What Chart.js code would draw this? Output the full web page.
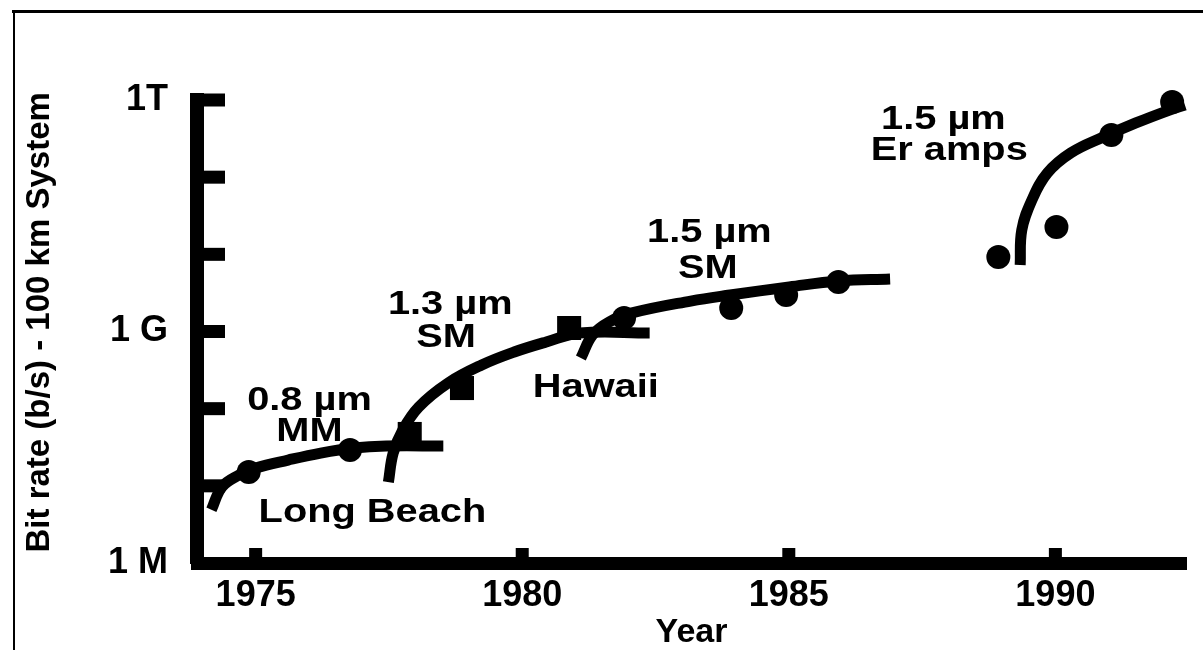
<!DOCTYPE html>
<html>
<head>
<meta charset="utf-8">
<title>Bit rate - 100 km System</title>
<script src="https://cdn.jsdelivr.net/npm/chart.js@4.4.1/dist/chart.umd.min.js"></script>
<style>
  body { margin: 0; background: #fff; }
  canvas { display: block; }
</style>
</head>
<body>
<canvas id="canvas" width="1203" height="653"></canvas>
<script>
// curves, rate in b/s
const mmCurveYears = [1974.17, 1974.37, 1974.69, 1975.0, 1975.61, 1976.22, 1976.84, 1977.45, 1978.52];
const mmCurveRates = [4.9e6, 9.7e6, 1.38e7, 1.7e7, 2.16e7, 2.66e7, 3.09e7, 3.28e7, 3.28e7];

const sm13CurveYears = [1977.49, 1977.58, 1977.76, 1978.06, 1978.61, 1979.24, 1979.85, 1980.45, 1981.08, 1982.39];
const sm13CurveRates = [1.12e7, 2.66e7, 5.3e7, 1.05e8, 2.15e8, 3.68e8, 5.42e8, 7.31e8, 9.55e8, 9.55e8];

const sm15CurveYears = [1981.1, 1981.32, 1981.63, 1982.06, 1983.16, 1983.9, 1985.01, 1985.93, 1986.9];
const sm15CurveRates = [4.53e8, 9.02e8, 1.33e9, 1.74e9, 2.48e9, 2.97e9, 3.78e9, 4.51e9, 4.79e9];

const erCurveYears = [1989.34, 1989.37, 1989.56, 1989.85, 1990.29, 1990.9, 1991.51, 1992.14, 1992.43];
const erCurveRates = [7.28e9, 2.07e10, 5.06e10, 1.13e11, 2.06e11, 3.31e11, 5.04e11, 7.41e11, 8.61e11];

// measured systems
const mmPointYears = [1974.87, 1976.77];
const mmPointRates = [1.51e7, 2.91e7];
const sm13PointYears = [1977.89, 1978.87, 1980.88];
const sm13PointRates = [4.7e7, 1.85e8, 1.11e9];
const sm15PointYears = [1981.91, 1983.92, 1984.95, 1985.93];
const sm15PointRates = [1.5e9, 2.01e9, 2.97e9, 4.38e9];
const erPointYears = [1988.93, 1990.02, 1991.05, 1992.19];
const erPointRates = [9.23e9, 2.26e10, 3.52e11, 9.42e11];

// axes
const yearTicks = [1975, 1980, 1985, 1990];
const rateTicks = [1e6, 1e7, 1e8, 1e9, 1e10, 1e11, 1e12];
const rateTickLabels = ["1 M", "", "", "1 G", "", "", "1T"];

// text notes on the plot
const noteTexts = ["0.8 \u00b5m", "MM", "Long Beach", "1.3 \u00b5m", "SM", "Hawaii", "1.5 \u00b5m", "SM", "1.5 \u00b5m", "Er amps"];
const noteYears = [1976.01, 1976.01, 1977.19, 1978.65, 1978.57, 1981.38, 1983.51, 1983.48, 1987.9, 1988.01];
const noteRates = [1.29e8, 4.99e7, 4.45e6, 2.2e9, 8.24e8, 1.85e8, 1.89e10, 6.46e9, 5.51e11, 2.18e11];

const FONT = "'Liberation Sans', Arial, Helvetica, sans-serif";

function toPoints(xs, ys) {
  return xs.map((x, i) => ({ x: x, y: ys[i] }));
}

function curve(xs, ys) {
  return {
    data: toPoints(xs, ys),
    borderColor: "#000",
    borderWidth: 11,
    pointRadius: 0,
    fill: false,
    tension: 0.4,
    clip: false,
  };
}

function markers(xs, ys, style, radius) {
  return {
    data: toPoints(xs, ys),
    showLine: false,
    pointStyle: style,
    pointRadius: radius,
    backgroundColor: "#000",
    borderColor: "#000",
    borderWidth: 0,
    clip: false,
  };
}

// tick marks pointing into the plot, like the original
const inwardTicks = {
  id: "inwardTicks",
  beforeDatasetsDraw(chart) {
    const ctx = chart.ctx;
    const area = chart.chartArea;
    const x = chart.scales.x;
    const y = chart.scales.y;
    ctx.save();
    ctx.fillStyle = "#000";
    rateTicks.forEach((v) => {
      if (v === rateTicks[0]) return;
      const py = y.getPixelForValue(v);
      ctx.fillRect(area.left + 6, py - 6.5, 22, 13);
    });
    yearTicks.forEach((v) => {
      const px = x.getPixelForValue(v);
      ctx.fillRect(px - 6.5, area.bottom - 15, 13, 10);
    });
    ctx.restore();
  },
};

const notes = {
  id: "notes",
  afterDatasetsDraw(chart) {
    const ctx = chart.ctx;
    const x = chart.scales.x;
    const y = chart.scales.y;
    ctx.save();
    ctx.fillStyle = "#000";
    ctx.font = "bold 34px " + FONT;
    ctx.textAlign = "center";
    ctx.textBaseline = "middle";
    noteTexts.forEach((text, i) => {
      ctx.save();
      ctx.translate(x.getPixelForValue(noteYears[i]), y.getPixelForValue(noteRates[i]));
      ctx.scale(1.17, 1); // the scan is stretched sideways
      ctx.fillText(text, 0, 0);
      ctx.restore();
    });
    ctx.restore();
  },
};

// thin frame of the scanned page
const frame = {
  id: "frame",
  afterDraw(chart) {
    const ctx = chart.ctx;
    ctx.save();
    ctx.strokeStyle = "#000";
    ctx.lineWidth = 3;
    ctx.beginPath();
    ctx.moveTo(12, 11.5);
    ctx.lineTo(1203, 11.5);
    ctx.stroke();
    ctx.lineWidth = 2;
    ctx.beginPath();
    ctx.moveTo(14, 10);
    ctx.lineTo(14, 650);
    ctx.stroke();
    ctx.restore();
  },
};

const ctx = document.getElementById("canvas").getContext("2d");
new Chart(ctx, {
  type: "line",
  data: {
    datasets: [
      curve(mmCurveYears, mmCurveRates),
      curve(sm13CurveYears, sm13CurveRates),
      curve(sm15CurveYears, sm15CurveRates),
      curve(erCurveYears, erCurveRates),
      markers(mmPointYears, mmPointRates, "circle", 12),
      markers(sm13PointYears, sm13PointRates, "rect", 17),
      markers(sm15PointYears, sm15PointRates, "circle", 12),
      markers(erPointYears, erPointRates, "circle", 12),
    ],
  },
  options: {
    responsive: false,
    animation: false,
    events: [],
    layout: { padding: { top: 100, right: 0, bottom: 0, left: 0 } },
    plugins: {
      legend: { display: false },
      tooltip: { enabled: false },
    },
    scales: {
      x: {
        type: "linear",
        min: 1973.9,
        max: 1992.45,
        afterFit: (scale) => { scale.height = 90; },
        afterBuildTicks: (scale) => {
          scale.ticks = yearTicks.map((v) => ({ value: v }));
        },
        grid: { display: false, drawTicks: false },
        border: { display: true, color: "#000", width: 13 },
        ticks: {
          autoSkip: false,
          maxRotation: 0,
          padding: 11,
          color: "#000",
          font: { family: FONT, size: 36, weight: "bold" },
          callback: (v) => String(v),
        },
        title: {
          display: true,
          text: "Year",
          color: "#000",
          font: { family: FONT, size: 34, weight: "bold" },
          padding: { top: 0, bottom: 0 },
        },
      },
      y: {
        type: "logarithmic",
        min: 1e6,
        max: 1e12,
        afterFit: (scale) => { scale.width = 197; },
        afterBuildTicks: (scale) => {
          scale.ticks = rateTicks.map((v) => ({ value: v }));
        },
        grid: { display: false, drawTicks: false },
        border: { display: true, color: "#000", width: 14 },
        ticks: {
          autoSkip: false,
          padding: 29,
          color: "#000",
          font: { family: FONT, size: 36, weight: "bold" },
          callback: (v) => rateTickLabels[rateTicks.indexOf(v)] || "",
        },
        title: {
          display: true,
          text: "  Bit rate (b/s) - 100 km System",
          color: "#000",
          font: { family: FONT, size: 33, weight: "bold" },
          padding: { top: 20, bottom: 0 },
        },
      },
    },
  },
  plugins: [inwardTicks, notes, frame],
});
</script>
</body>
</html>
